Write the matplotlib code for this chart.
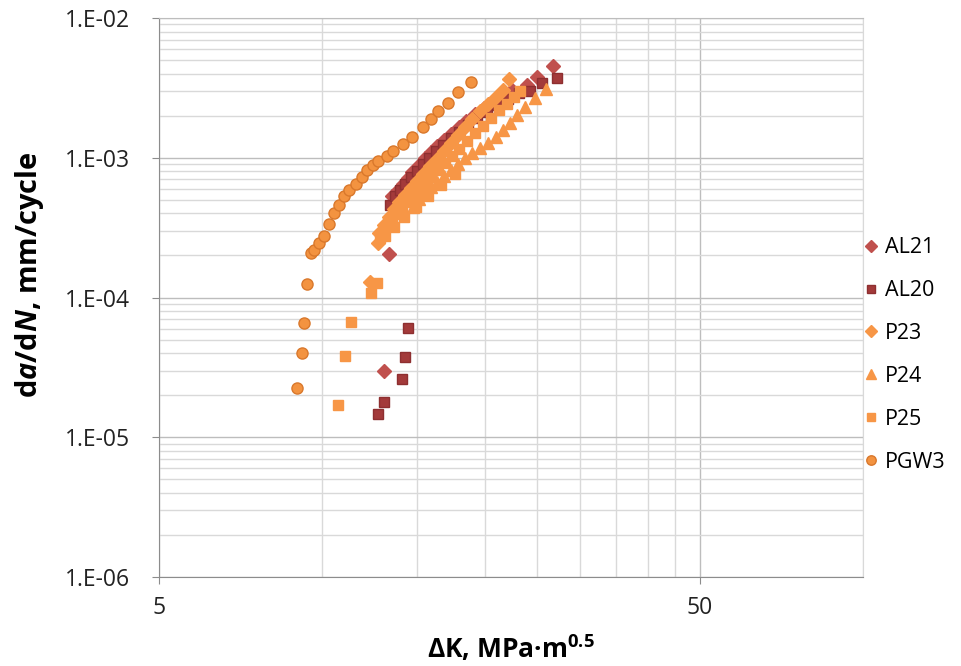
import math
import matplotlib
matplotlib.use("Agg")
import matplotlib.pyplot as plt
from matplotlib.ticker import FixedLocator, FuncFormatter, NullFormatter

plt.rcParams['font.family'] = ['Open Sans', 'DejaVu Sans']
plt.rcParams['mathtext.fontset'] = 'custom'
plt.rcParams['mathtext.rm'] = 'Open Sans'
plt.rcParams['mathtext.it'] = 'Open Sans:italic'
plt.rcParams['mathtext.bf'] = 'Open Sans:bold'
plt.rcParams['mathtext.bfit'] = 'Open Sans:italic:bold'

# stress intensity range (MPa*m^0.5) vs crack growth rate (mm/cycle)
al21_dk = [13.0, 13.3, 13.5, 13.8, 14.1, 14.4, 14.7, 15.1, 15.5, 15.9, 16.3, 16.8,
           17.3, 17.9, 18.5, 19.2, 19.9, 20.7, 21.6, 22.5, 23.9, 25.0, 26.7]
al21_rate = [2.98e-5, 2.05e-4, 5.33e-4, 5.88e-4, 6.49e-4, 7.16e-4, 7.91e-4, 8.87e-4,
             9.96e-4, 1.10e-3, 1.21e-3, 1.34e-3, 1.48e-3, 1.66e-3, 1.83e-3, 2.06e-3,
             2.27e-3, 2.51e-3, 2.77e-3, 3.05e-3, 3.32e-3, 3.78e-3, 4.53e-3]

al20_dk = [12.7, 13.05, 14.07, 14.25, 14.43, 13.37, 13.66, 13.95, 14.25, 14.62, 15.0,
           15.38, 15.78, 16.26, 16.75, 17.33, 17.92, 18.63, 19.36, 20.2, 21.08, 22.09,
           23.14, 24.25, 25.52, 27.2]
al20_rate = [1.46e-5, 1.80e-5, 2.61e-5, 3.73e-5, 6.05e-5, 4.59e-4, 5.33e-4, 5.88e-4,
             6.49e-4, 7.28e-4, 8.04e-4, 9.02e-4, 9.96e-4, 1.12e-3, 1.23e-3, 1.38e-3,
             1.53e-3, 1.71e-3, 1.92e-3, 2.13e-3, 2.38e-3, 2.63e-3, 2.91e-3, 3.00e-3,
             3.43e-3, 3.72e-3]

p23_dk = [12.27, 12.72, 12.76, 13.03, 13.31, 13.59, 13.89, 14.25, 14.62, 15.0, 15.38,
          15.85, 16.33, 16.82, 17.33, 17.85, 18.39, 18.95, 19.6, 20.28, 20.99, 21.62,
          22.18]
p23_rate = [1.30e-4, 2.44e-4, 2.89e-4, 3.30e-4, 3.77e-4, 4.30e-4, 4.82e-4, 5.41e-4,
            6.07e-4, 6.82e-4, 7.65e-4, 8.73e-4, 9.80e-4, 1.12e-3, 1.27e-3, 1.46e-3,
            1.66e-3, 1.89e-3, 2.16e-3, 2.42e-3, 2.72e-3, 3.05e-3, 3.66e-3]

p24_dk = [14.74, 15.12, 15.51, 15.92, 16.33, 16.82, 17.33, 17.85, 18.39, 18.95, 19.6,
          20.28, 20.99, 21.62, 22.27, 22.95, 23.74, 24.78, 25.96]
p24_rate = [4.44e-4, 5.07e-4, 5.59e-4, 6.17e-4, 6.71e-4, 7.40e-4, 8.17e-4, 9.02e-4,
            9.96e-4, 1.08e-3, 1.17e-3, 1.27e-3, 1.41e-3, 1.58e-3, 1.77e-3, 2.02e-3,
            2.31e-3, 2.68e-3, 3.10e-3]

p25_dk = [10.7, 11.04, 11.31, 12.33, 12.63, 12.81, 13.03, 13.25, 13.48, 13.77, 14.07,
          14.37, 14.74, 15.12, 15.51, 15.92, 16.4, 16.89, 17.4, 17.92, 18.55, 19.19,
          19.86, 20.54, 21.26, 21.99, 22.66, 23.24,
          13.1, 13.6, 14.2, 14.9, 15.7, 16.6, 17.6]
p25_rate = [1.69e-5, 3.81e-5, 6.71e-5, 1.07e-4, 1.28e-4, 2.67e-4, 2.94e-4, 3.25e-4,
            3.59e-4, 3.96e-4, 4.37e-4, 4.82e-4, 5.33e-4, 5.88e-4, 6.60e-4, 7.28e-4,
            8.17e-4, 9.17e-4, 1.03e-3, 1.16e-3, 1.32e-3, 1.50e-3, 1.69e-3, 1.92e-3,
            2.20e-3, 2.42e-3, 2.72e-3, 3.00e-3,
            2.75e-4, 3.20e-4, 3.75e-4, 4.45e-4, 5.30e-4, 6.40e-4, 7.70e-4]

pgw3_dk = [8.99, 9.18, 9.27, 9.37, 9.54, 9.68, 9.88, 10.08, 10.3, 10.54, 10.76, 10.98,
           11.22, 11.56, 11.86, 12.14, 12.42, 12.7, 13.18, 13.55, 14.11, 14.7, 15.4,
           15.91, 16.4, 17.13, 17.87, 18.84]
pgw3_rate = [2.24e-5, 3.99e-5, 6.53e-5, 1.25e-4, 2.07e-4, 2.19e-4, 2.44e-4, 2.77e-4,
             3.34e-4, 4.04e-4, 4.61e-4, 5.32e-4, 5.83e-4, 6.49e-4, 7.25e-4, 8.17e-4,
             8.87e-4, 9.48e-4, 1.03e-3, 1.12e-3, 1.25e-3, 1.41e-3, 1.67e-3, 1.88e-3,
             2.16e-3, 2.48e-3, 2.94e-3, 3.47e-3]

x_major = [5, 50]
x_minor = [10, 15, 20, 25, 30, 35, 40, 45, 100]
y_major = [1e-6, 1e-5, 1e-4, 1e-3, 1e-2]

fig = plt.figure(figsize=(9.61, 6.66), dpi=100)
ax = fig.add_axes([0.1655, 0.1336, 0.7325, 0.8394])

red = '#C0504D'
brick = '#A33A3A'
orange = '#F79646'

ax.plot(al21_dk, al21_rate, ls='none', marker='D', ms=7, mfc=red, mec=red, label='AL21')
ax.plot(al20_dk, al20_rate, ls='none', marker='s', ms=7.5, mfc=brick, mec='#8E2F30', label='AL20')
ax.plot(p23_dk, p23_rate, ls='none', marker='D', ms=7, mfc=orange, mec=orange, label='P23')
ax.plot(p24_dk, p24_rate, ls='none', marker='^', ms=8, mfc=orange, mec=orange, label='P24')
ax.plot(p25_dk, p25_rate, ls='none', marker='s', ms=7.5, mfc=orange, mec=orange, label='P25')
ax.plot(pgw3_dk, pgw3_rate, ls='none', marker='o', ms=8, mfc='#F39340', mec='#D9782C',
        mew=1.0, label='PGW3')

ax.set_xscale('log')
ax.set_yscale('log')
ax.set_xlim(5, 100)
ax.set_ylim(1e-6, 1e-2)

ax.xaxis.set_major_locator(FixedLocator(x_major))
ax.xaxis.set_minor_locator(FixedLocator(x_minor))
ax.xaxis.set_major_formatter(FuncFormatter(lambda v, p: '%g' % v))
ax.xaxis.set_minor_formatter(NullFormatter())
ax.yaxis.set_major_locator(FixedLocator(y_major))
ax.yaxis.set_minor_locator(FixedLocator([m * 10.0 ** e for e in range(-6, -2) for m in range(2, 10)]))
ax.yaxis.set_major_formatter(FuncFormatter(lambda v, p: '1.E-%02d' % round(-math.log10(v))))
ax.yaxis.set_minor_formatter(NullFormatter())

ax.grid(which='major', color='#BDBDBD', lw=1.0)
ax.grid(which='minor', color='#D9D9D9', lw=1.0)
ax.set_axisbelow(True)

for side in ['left', 'bottom']:
    ax.spines[side].set_color('#8C8C8C')
ax.spines['top'].set_color('#BDBDBD')
ax.spines['right'].set_color('#D9D9D9')
ax.tick_params(which='major', length=5, color='#8C8C8C', labelsize=16.5, labelcolor='#222222')
ax.tick_params(axis='y', pad=16)
ax.tick_params(axis='x', pad=9)
ax.tick_params(which='minor', length=0)

ax.set_xlabel(r'ΔK, MPa·m$^{\mathbf{0.5}}$', fontsize=19, fontweight='bold', labelpad=10)
ax.set_ylabel(r'd$\mathbfit{a}$/d$\mathbfit{N}$, mm/cycle', fontsize=21, fontweight='bold')
ax.yaxis.set_label_coords(-0.16, 0.54)

ax.legend(loc='upper left', bbox_to_anchor=(0.9, 0.644), bbox_transform=fig.transFigure,
          frameon=False, fontsize=15.5, handlelength=0.6, handletextpad=0.35, labelspacing=1.02,
          borderpad=0, borderaxespad=0, markerscale=0.85)

fig.savefig('out.png', dpi=100)
